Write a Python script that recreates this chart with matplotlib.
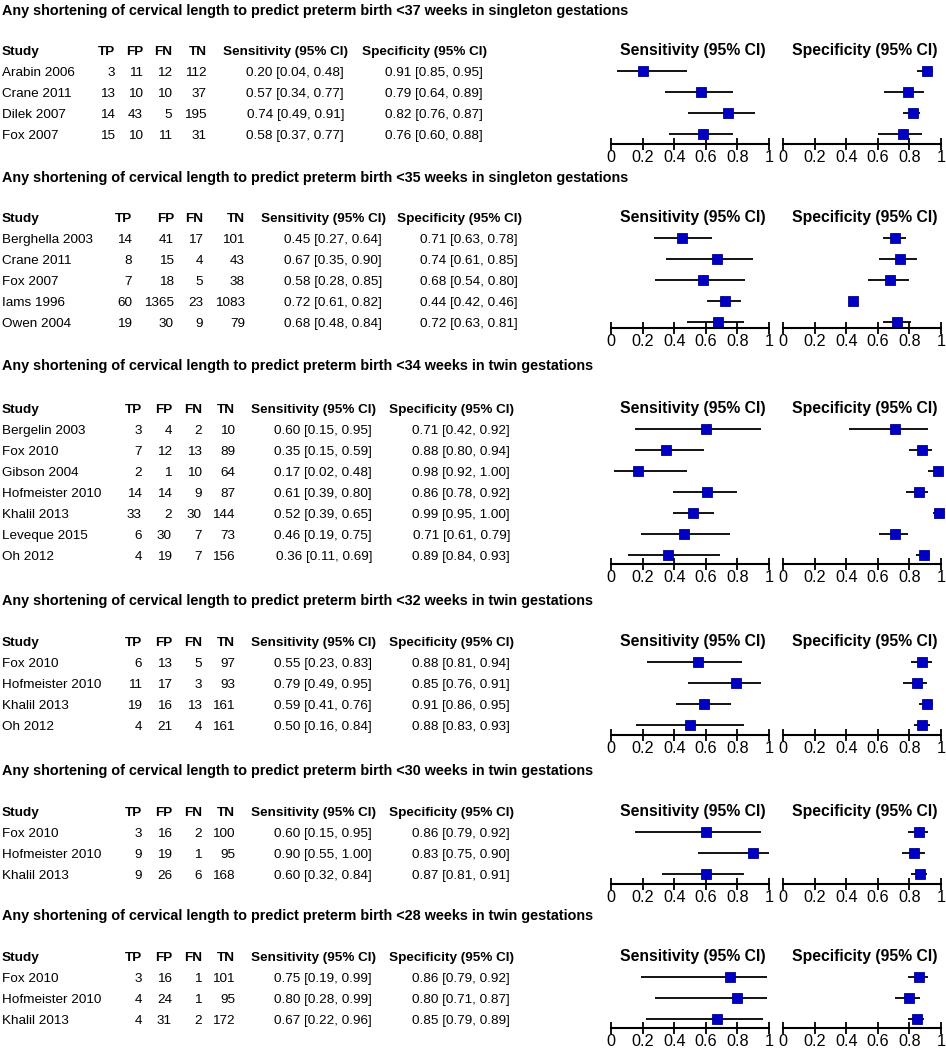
import matplotlib.pyplot as plt

plt.rcParams['font.family'] = ['Liberation Sans', 'DejaVu Sans']

# ---- data ----
titles = [
    "Any shortening of cervical length to predict preterm birth <37 weeks in singleton gestations",
    "Any shortening of cervical length to predict preterm birth <35 weeks in singleton gestations",
    "Any shortening of cervical length to predict preterm birth <34 weeks in twin gestations",
    "Any shortening of cervical length to predict preterm birth <32 weeks in twin gestations",
    "Any shortening of cervical length to predict preterm birth <30 weeks in twin gestations",
    "Any shortening of cervical length to predict preterm birth <28 weeks in twin gestations",
]

# <37 weeks singleton
study_37s = ["Arabin 2006", "Crane 2011", "Dilek 2007", "Fox 2007"]
counts_37s = [(3, 11, 12, 112), (13, 10, 10, 37), (14, 43, 5, 195), (15, 10, 11, 31)]
sens_37s = [(0.20, 0.04, 0.48), (0.57, 0.34, 0.77), (0.74, 0.49, 0.91), (0.58, 0.37, 0.77)]
spec_37s = [(0.91, 0.85, 0.95), (0.79, 0.64, 0.89), (0.82, 0.76, 0.87), (0.76, 0.60, 0.88)]

# <35 weeks singleton
study_35s = ["Berghella 2003", "Crane 2011", "Fox 2007", "Iams 1996", "Owen 2004"]
counts_35s = [(14, 41, 17, 101), (8, 15, 4, 43), (7, 18, 5, 38), (60, 1365, 23, 1083), (19, 30, 9, 79)]
sens_35s = [(0.45, 0.27, 0.64), (0.67, 0.35, 0.90), (0.58, 0.28, 0.85), (0.72, 0.61, 0.82), (0.68, 0.48, 0.84)]
spec_35s = [(0.71, 0.63, 0.78), (0.74, 0.61, 0.85), (0.68, 0.54, 0.80), (0.44, 0.42, 0.46), (0.72, 0.63, 0.81)]

# <34 weeks twin
study_34t = ["Bergelin 2003", "Fox 2010", "Gibson 2004", "Hofmeister 2010", "Khalil 2013", "Leveque 2015", "Oh 2012"]
counts_34t = [(3, 4, 2, 10), (7, 12, 13, 89), (2, 1, 10, 64), (14, 14, 9, 87), (33, 2, 30, 144), (6, 30, 7, 73), (4, 19, 7, 156)]
sens_34t = [(0.60, 0.15, 0.95), (0.35, 0.15, 0.59), (0.17, 0.02, 0.48), (0.61, 0.39, 0.80), (0.52, 0.39, 0.65), (0.46, 0.19, 0.75), (0.36, 0.11, 0.69)]
spec_34t = [(0.71, 0.42, 0.92), (0.88, 0.80, 0.94), (0.98, 0.92, 1.00), (0.86, 0.78, 0.92), (0.99, 0.95, 1.00), (0.71, 0.61, 0.79), (0.89, 0.84, 0.93)]

# <32 weeks twin
study_32t = ["Fox 2010", "Hofmeister 2010", "Khalil 2013", "Oh 2012"]
counts_32t = [(6, 13, 5, 97), (11, 17, 3, 93), (19, 16, 13, 161), (4, 21, 4, 161)]
sens_32t = [(0.55, 0.23, 0.83), (0.79, 0.49, 0.95), (0.59, 0.41, 0.76), (0.50, 0.16, 0.84)]
spec_32t = [(0.88, 0.81, 0.94), (0.85, 0.76, 0.91), (0.91, 0.86, 0.95), (0.88, 0.83, 0.93)]

# <30 weeks twin
study_30t = ["Fox 2010", "Hofmeister 2010", "Khalil 2013"]
counts_30t = [(3, 16, 2, 100), (9, 19, 1, 95), (9, 26, 6, 168)]
sens_30t = [(0.60, 0.15, 0.95), (0.90, 0.55, 1.00), (0.60, 0.32, 0.84)]
spec_30t = [(0.86, 0.79, 0.92), (0.83, 0.75, 0.90), (0.87, 0.81, 0.91)]

# <28 weeks twin
study_28t = ["Fox 2010", "Hofmeister 2010", "Khalil 2013"]
counts_28t = [(3, 16, 1, 101), (4, 24, 1, 95), (4, 31, 2, 172)]
sens_28t = [(0.75, 0.19, 0.99), (0.80, 0.28, 0.99), (0.67, 0.22, 0.96)]
spec_28t = [(0.86, 0.79, 0.92), (0.80, 0.71, 0.87), (0.85, 0.79, 0.89)]

sections = [
    (study_37s, counts_37s, sens_37s, spec_37s),
    (study_35s, counts_35s, sens_35s, spec_35s),
    (study_34t, counts_34t, sens_34t, spec_34t),
    (study_32t, counts_32t, sens_32t, spec_32t),
    (study_30t, counts_30t, sens_30t, spec_30t),
    (study_28t, counts_28t, sens_28t, spec_28t),
]

# ---- layout (pixels, y from top) ----
W, H = 946, 1050
title_y = [10, 177, 365, 600, 770, 915]
header_gap = [40, 40, 43, 41, 41, 41]
axis_gap = [10, 6, 9, 10, 10, 9]
# right edges of TP, FP, FN, TN, Sensitivity, Specificity
cols = [
    (115, 143, 172, 207, 344, 483),
    (132, 174, 203, 245, 382, 518),
    (142, 172, 202, 235, 372, 510),
    (142, 172, 202, 235, 372, 510),
    (142, 172, 202, 235, 372, 510),
    (142, 172, 202, 235, 372, 510),
]
row_h = 21
ytop_pad = 12
sens_x = (611, 769)
spec_x = (783, 941)
fs = 9.7
blue = '#0000C4'

fig = plt.figure(figsize=(W / 100, H / 100), dpi=100)


def put(x, y, s, **kw):
    # y is the visual middle of the text line; baseline sits ~5px lower
    fig.text(x / W, 1 - (y + 5) / H, s, va='baseline', **kw)


def forest(x0, x1, ytop, yaxis, vals, n, gap):
    ax = fig.add_axes([x0 / W, 1 - yaxis / H, (x1 - x0) / W, (yaxis - ytop) / H])
    ax.set_xlim(0, 1)
    ax.set_ylim(n - 1 + gap / row_h, -(ytop_pad / row_h))
    for i, (est, lo, hi) in enumerate(vals):
        ax.hlines(i, lo, hi, color='black', lw=1.3, clip_on=False)
        ax.plot(est, i, 's', ms=7.3, color=blue, mec='#000090', mew=0.6, clip_on=False)
    for side in ['top', 'left', 'right']:
        ax.spines[side].set_visible(False)
    ax.spines['bottom'].set_linewidth(1.5)
    ax.set_yticks([])
    ax.set_xticks([0, 0.2, 0.4, 0.6, 0.8, 1.0])
    ax.set_xticklabels(['0', '0.2', '0.4', '0.6', '0.8', '1'])
    ax.tick_params(axis='x', direction='inout', length=8, width=1.3, labelsize=11.7, pad=0.5)
    ax.patch.set_visible(False)


for k, (study, counts, sens, spec) in enumerate(sections):
    ty = title_y[k]
    hy = ty + header_gap[k]
    c = cols[k]
    put(2, ty, titles[k], fontsize=10.4, fontweight='bold')
    put(2, hy, "Study", fontsize=fs, fontweight='bold')
    for name, x in zip(["TP", "FP", "FN", "TN"], c[:4]):
        put(x, hy, name, fontsize=fs, fontweight='bold', ha='right')
    put(c[4] + 4, hy, "Sensitivity (95% CI)", fontsize=fs, fontweight='bold', ha='right')
    put(c[5] + 4, hy, "Specificity (95% CI)", fontsize=fs, fontweight='bold', ha='right')
    put((sens_x[0] + sens_x[1]) / 2 + 3, hy, "Sensitivity (95% CI)", fontsize=11.3, fontweight='bold', ha='center')
    put((spec_x[0] + spec_x[1]) / 2 + 3, hy, "Specificity (95% CI)", fontsize=11.3, fontweight='bold', ha='center')

    first = hy + row_h
    n = len(study)
    for i in range(n):
        y = first + i * row_h
        put(2, y, study[i], fontsize=fs)
        for v, x in zip(counts[i], c[:4]):
            put(x, y, str(v), fontsize=fs, ha='right')
        put(c[4], y, "%.2f [%.2f, %.2f]" % sens[i], fontsize=fs, ha='right')
        put(c[5], y, "%.2f [%.2f, %.2f]" % spec[i], fontsize=fs, ha='right')

    yaxis = first + (n - 1) * row_h + axis_gap[k]
    ytop = first - ytop_pad
    forest(sens_x[0], sens_x[1], ytop, yaxis, sens, n, axis_gap[k])
    forest(spec_x[0], spec_x[1], ytop, yaxis, spec, n, axis_gap[k])

fig.savefig('out.png', dpi=100, facecolor='white')
